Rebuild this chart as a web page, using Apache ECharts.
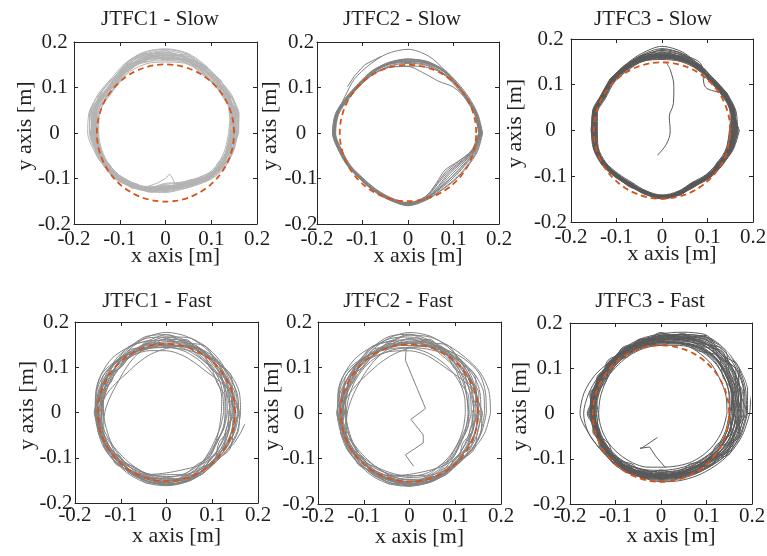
<!DOCTYPE html>
<html>
<head>
<meta charset="utf-8">
<script src="https://cdn.jsdelivr.net/npm/echarts@6/dist/echarts.min.js"></script>
<style>
html, body { margin: 0; padding: 0; background: #fff; }
#main { width: 767px; height: 556px; }
</style>
</head>
<body>
<div id="main"></div>
<script>
// panel titles and axis ticks
const titles = ['JTFC1 - Slow', 'JTFC2 - Slow', 'JTFC3 - Slow', 'JTFC1 - Fast', 'JTFC2 - Fast', 'JTFC3 - Fast']
const tickValues = [-0.2, -0.1, 0, 0.1, 0.2]
const tickLabels = ['-0.2', '-0.1', '0', '0.1', '0.2']

// reference path (dashed circle), radius in m
const refRadius = 0.15
const refAngles = [0, 10, 20, 30, 40, 50, 60, 70, 80, 90, 100, 110, 120, 130, 140, 150, 160, 170, 180,
  190, 200, 210, 220, 230, 240, 250, 260, 270, 280, 290, 300, 310, 320, 330, 340, 350, 360]

// angles (deg) where the radius of each measured loop was read
const angles = [0, 15, 30, 45, 60, 75, 90, 105, 120, 135, 150, 165, 180, 195, 210, 225, 240, 255, 270, 285, 300, 315, 330, 345]

// measured loops: radius [m] at each angle
const slow1 = [
  [0.150, 0.158, 0.160, 0.155, 0.165, 0.172, 0.175, 0.174, 0.166, 0.158, 0.162, 0.163, 0.158, 0.153, 0.147, 0.140, 0.133, 0.126, 0.118, 0.118, 0.124, 0.134, 0.141, 0.146],
  [0.142, 0.150, 0.154, 0.152, 0.158, 0.163, 0.162, 0.165, 0.160, 0.152, 0.155, 0.156, 0.150, 0.148, 0.145, 0.140, 0.134, 0.127, 0.121, 0.122, 0.127, 0.136, 0.139, 0.140],
  [0.155, 0.162, 0.165, 0.162, 0.168, 0.176, 0.180, 0.178, 0.170, 0.160, 0.164, 0.168, 0.162, 0.156, 0.150, 0.144, 0.137, 0.130, 0.124, 0.123, 0.128, 0.138, 0.146, 0.150],
  [0.146, 0.153, 0.156, 0.160, 0.162, 0.166, 0.165, 0.168, 0.164, 0.155, 0.158, 0.158, 0.153, 0.150, 0.146, 0.141, 0.134, 0.127, 0.119, 0.119, 0.124, 0.133, 0.139, 0.143],
  [0.158, 0.166, 0.163, 0.166, 0.170, 0.179, 0.183, 0.181, 0.174, 0.165, 0.168, 0.173, 0.170, 0.160, 0.152, 0.146, 0.138, 0.131, 0.126, 0.125, 0.130, 0.140, 0.148, 0.154],
  [0.140, 0.148, 0.152, 0.150, 0.156, 0.160, 0.158, 0.162, 0.158, 0.150, 0.152, 0.153, 0.148, 0.146, 0.143, 0.138, 0.131, 0.124, 0.112, 0.114, 0.120, 0.130, 0.136, 0.138],
  [0.152, 0.160, 0.157, 0.158, 0.164, 0.170, 0.171, 0.172, 0.168, 0.160, 0.161, 0.161, 0.156, 0.152, 0.148, 0.143, 0.136, 0.128, 0.121, 0.120, 0.126, 0.137, 0.143, 0.147],
  [0.145, 0.152, 0.150, 0.155, 0.160, 0.167, 0.168, 0.169, 0.163, 0.156, 0.160, 0.158, 0.152, 0.149, 0.146, 0.141, 0.135, 0.129, 0.122, 0.121, 0.125, 0.134, 0.140, 0.142],
  [0.160, 0.166, 0.150, 0.150, 0.158, 0.165, 0.166, 0.168, 0.162, 0.153, 0.160, 0.172, 0.165, 0.151, 0.145, 0.139, 0.132, 0.126, 0.117, 0.117, 0.122, 0.132, 0.139, 0.148],
  [0.148, 0.155, 0.159, 0.156, 0.161, 0.169, 0.173, 0.171, 0.167, 0.159, 0.158, 0.159, 0.154, 0.151, 0.147, 0.142, 0.135, 0.128, 0.125, 0.124, 0.127, 0.136, 0.141, 0.144],
  [0.138, 0.146, 0.153, 0.149, 0.154, 0.158, 0.155, 0.157, 0.155, 0.148, 0.150, 0.150, 0.146, 0.144, 0.141, 0.136, 0.129, 0.122, 0.110, 0.112, 0.118, 0.128, 0.133, 0.135],
  [0.156, 0.163, 0.167, 0.165, 0.172, 0.181, 0.184, 0.183, 0.176, 0.168, 0.170, 0.170, 0.166, 0.158, 0.152, 0.146, 0.139, 0.133, 0.130, 0.128, 0.132, 0.142, 0.150, 0.153],
  [0.150, 0.150, 0.162, 0.160, 0.163, 0.165, 0.163, 0.166, 0.169, 0.163, 0.156, 0.155, 0.160, 0.155, 0.149, 0.143, 0.133, 0.127, 0.119, 0.121, 0.129, 0.137, 0.144, 0.145],
  [0.144, 0.157, 0.158, 0.153, 0.166, 0.174, 0.170, 0.167, 0.162, 0.154, 0.163, 0.165, 0.151, 0.147, 0.144, 0.139, 0.136, 0.130, 0.123, 0.123, 0.123, 0.131, 0.138, 0.141],
  [0.153, 0.159, 0.155, 0.161, 0.167, 0.171, 0.177, 0.176, 0.171, 0.162, 0.159, 0.162, 0.159, 0.155, 0.150, 0.145, 0.137, 0.125, 0.116, 0.119, 0.128, 0.139, 0.145, 0.151],
  [0.147, 0.154, 0.161, 0.158, 0.160, 0.164, 0.170, 0.173, 0.165, 0.157, 0.157, 0.166, 0.157, 0.150, 0.146, 0.140, 0.132, 0.127, 0.120, 0.116, 0.121, 0.133, 0.140, 0.147],
  [0.156, 0.149, 0.152, 0.163, 0.170, 0.165, 0.160, 0.176, 0.172, 0.150, 0.148, 0.165, 0.162, 0.146, 0.150, 0.145, 0.128, 0.131, 0.127, 0.115, 0.117, 0.139, 0.137, 0.150],
  [0.143, 0.160, 0.163, 0.150, 0.157, 0.178, 0.168, 0.160, 0.170, 0.163, 0.152, 0.151, 0.164, 0.156, 0.142, 0.137, 0.140, 0.122, 0.116, 0.126, 0.131, 0.130, 0.146, 0.138],
  [0.152, 0.145, 0.158, 0.167, 0.161, 0.160, 0.180, 0.170, 0.158, 0.166, 0.165, 0.156, 0.149, 0.158, 0.150, 0.135, 0.130, 0.134, 0.122, 0.113, 0.125, 0.140, 0.134, 0.145],
  [0.158, 0.163, 0.148, 0.158, 0.169, 0.168, 0.161, 0.179, 0.175, 0.155, 0.155, 0.169, 0.157, 0.148, 0.152, 0.148, 0.134, 0.124, 0.128, 0.126, 0.119, 0.127, 0.145, 0.152],
  [0.141, 0.151, 0.160, 0.152, 0.152, 0.171, 0.176, 0.164, 0.161, 0.161, 0.167, 0.160, 0.151, 0.153, 0.140, 0.143, 0.138, 0.125, 0.114, 0.120, 0.130, 0.135, 0.132, 0.142],
  [0.150, 0.157, 0.155, 0.164, 0.166, 0.162, 0.172, 0.180, 0.166, 0.152, 0.161, 0.158, 0.155, 0.150, 0.148, 0.136, 0.133, 0.132, 0.124, 0.118, 0.122, 0.136, 0.142, 0.139]
]
const slow2 = [
  [0.160, 0.155, 0.151, 0.150, 0.156, 0.160, 0.158, 0.158, 0.155, 0.152, 0.154, 0.162, 0.163, 0.154, 0.148, 0.143, 0.145, 0.150, 0.157, 0.150, 0.140, 0.136, 0.140, 0.152],
  [0.163, 0.157, 0.153, 0.152, 0.158, 0.163, 0.162, 0.160, 0.157, 0.153, 0.156, 0.164, 0.165, 0.156, 0.150, 0.145, 0.147, 0.152, 0.159, 0.152, 0.145, 0.144, 0.148, 0.156],
  [0.157, 0.154, 0.149, 0.149, 0.153, 0.156, 0.155, 0.156, 0.153, 0.150, 0.152, 0.160, 0.161, 0.152, 0.147, 0.142, 0.144, 0.149, 0.155, 0.147, 0.130, 0.122, 0.130, 0.147],
  [0.156, 0.153, 0.150, 0.151, 0.160, 0.175, 0.184, 0.180, 0.172, 0.167, 0.160, 0.161, 0.162, 0.153, 0.148, 0.144, 0.146, 0.151, 0.156, 0.149, 0.136, 0.128, 0.134, 0.149],
  [0.158, 0.154, 0.148, 0.142, 0.132, 0.136, 0.146, 0.150, 0.150, 0.149, 0.153, 0.160, 0.160, 0.151, 0.146, 0.141, 0.143, 0.148, 0.154, 0.146, 0.126, 0.115, 0.126, 0.146],
  [0.161, 0.156, 0.152, 0.153, 0.157, 0.159, 0.157, 0.157, 0.154, 0.151, 0.153, 0.163, 0.164, 0.155, 0.149, 0.144, 0.146, 0.151, 0.158, 0.151, 0.142, 0.140, 0.144, 0.154],
  [0.159, 0.155, 0.150, 0.151, 0.156, 0.158, 0.160, 0.159, 0.156, 0.152, 0.155, 0.161, 0.162, 0.155, 0.149, 0.145, 0.147, 0.152, 0.156, 0.148, 0.134, 0.125, 0.132, 0.148],
  [0.162, 0.158, 0.152, 0.150, 0.152, 0.150, 0.147, 0.150, 0.151, 0.151, 0.154, 0.163, 0.164, 0.155, 0.150, 0.146, 0.148, 0.153, 0.157, 0.150, 0.138, 0.132, 0.137, 0.150],
  [0.158, 0.156, 0.151, 0.152, 0.157, 0.161, 0.161, 0.158, 0.153, 0.150, 0.152, 0.159, 0.161, 0.153, 0.148, 0.144, 0.146, 0.150, 0.156, 0.149, 0.140, 0.137, 0.142, 0.151],
  [0.155, 0.152, 0.147, 0.147, 0.151, 0.154, 0.153, 0.153, 0.150, 0.148, 0.150, 0.158, 0.159, 0.150, 0.145, 0.140, 0.142, 0.147, 0.153, 0.145, 0.128, 0.119, 0.127, 0.145],
  [0.164, 0.159, 0.155, 0.155, 0.160, 0.162, 0.163, 0.161, 0.158, 0.154, 0.157, 0.165, 0.166, 0.157, 0.151, 0.146, 0.148, 0.153, 0.160, 0.153, 0.146, 0.146, 0.150, 0.158]
]
const slow3 = [
  [0.158, 0.161, 0.158, 0.154, 0.160, 0.163, 0.165, 0.164, 0.158, 0.155, 0.149, 0.153, 0.149, 0.151, 0.147, 0.140, 0.137, 0.141, 0.147, 0.143, 0.137, 0.142, 0.147, 0.154],
  [0.162, 0.165, 0.162, 0.158, 0.164, 0.168, 0.170, 0.168, 0.161, 0.158, 0.152, 0.156, 0.152, 0.153, 0.150, 0.143, 0.139, 0.143, 0.149, 0.145, 0.139, 0.145, 0.150, 0.157],
  [0.154, 0.157, 0.155, 0.152, 0.157, 0.159, 0.159, 0.160, 0.154, 0.151, 0.145, 0.149, 0.145, 0.147, 0.144, 0.137, 0.134, 0.139, 0.144, 0.140, 0.134, 0.139, 0.143, 0.150],
  [0.166, 0.160, 0.157, 0.135, 0.170, 0.172, 0.176, 0.170, 0.160, 0.156, 0.150, 0.154, 0.150, 0.151, 0.148, 0.141, 0.138, 0.142, 0.147, 0.142, 0.137, 0.141, 0.148, 0.158],
  [0.156, 0.162, 0.160, 0.157, 0.161, 0.166, 0.167, 0.166, 0.160, 0.157, 0.151, 0.151, 0.143, 0.148, 0.146, 0.139, 0.136, 0.140, 0.146, 0.143, 0.138, 0.144, 0.149, 0.152],
  [0.160, 0.158, 0.156, 0.153, 0.158, 0.161, 0.162, 0.161, 0.156, 0.153, 0.147, 0.151, 0.147, 0.149, 0.146, 0.139, 0.136, 0.140, 0.145, 0.141, 0.135, 0.140, 0.145, 0.152],
  [0.168, 0.163, 0.160, 0.160, 0.166, 0.175, 0.180, 0.172, 0.163, 0.159, 0.153, 0.157, 0.154, 0.155, 0.151, 0.144, 0.141, 0.145, 0.150, 0.146, 0.141, 0.147, 0.152, 0.160],
  [0.152, 0.159, 0.157, 0.153, 0.159, 0.160, 0.161, 0.162, 0.157, 0.154, 0.148, 0.152, 0.148, 0.150, 0.147, 0.140, 0.137, 0.141, 0.146, 0.142, 0.136, 0.141, 0.145, 0.150],
  [0.159, 0.162, 0.159, 0.156, 0.162, 0.164, 0.164, 0.165, 0.159, 0.156, 0.150, 0.154, 0.150, 0.152, 0.149, 0.142, 0.138, 0.142, 0.148, 0.144, 0.138, 0.143, 0.148, 0.155],
  [0.161, 0.160, 0.158, 0.155, 0.158, 0.160, 0.158, 0.158, 0.155, 0.152, 0.146, 0.150, 0.146, 0.148, 0.145, 0.138, 0.135, 0.139, 0.144, 0.141, 0.136, 0.141, 0.146, 0.154],
  [0.155, 0.164, 0.161, 0.156, 0.163, 0.167, 0.168, 0.167, 0.162, 0.157, 0.151, 0.155, 0.151, 0.152, 0.148, 0.141, 0.138, 0.142, 0.147, 0.144, 0.139, 0.144, 0.148, 0.153],
  [0.164, 0.162, 0.158, 0.155, 0.161, 0.164, 0.166, 0.165, 0.159, 0.155, 0.149, 0.152, 0.149, 0.150, 0.146, 0.139, 0.136, 0.140, 0.146, 0.142, 0.136, 0.142, 0.147, 0.156],
  [0.163, 0.166, 0.163, 0.160, 0.167, 0.171, 0.173, 0.171, 0.164, 0.160, 0.154, 0.158, 0.155, 0.156, 0.152, 0.145, 0.141, 0.144, 0.150, 0.147, 0.142, 0.148, 0.153, 0.159],
  [0.150, 0.155, 0.153, 0.150, 0.155, 0.157, 0.156, 0.158, 0.152, 0.149, 0.143, 0.147, 0.142, 0.145, 0.142, 0.135, 0.132, 0.137, 0.142, 0.138, 0.132, 0.137, 0.141, 0.147],
  [0.166, 0.168, 0.164, 0.161, 0.165, 0.178, 0.185, 0.175, 0.165, 0.160, 0.155, 0.158, 0.152, 0.154, 0.150, 0.143, 0.140, 0.144, 0.149, 0.145, 0.140, 0.146, 0.151, 0.161],
  [0.157, 0.160, 0.159, 0.157, 0.163, 0.166, 0.166, 0.163, 0.157, 0.154, 0.149, 0.153, 0.148, 0.150, 0.147, 0.141, 0.138, 0.141, 0.145, 0.143, 0.138, 0.143, 0.146, 0.152],
  [0.160, 0.163, 0.161, 0.158, 0.160, 0.162, 0.161, 0.162, 0.160, 0.157, 0.151, 0.155, 0.149, 0.149, 0.146, 0.140, 0.136, 0.140, 0.147, 0.145, 0.140, 0.144, 0.149, 0.156],
  [0.153, 0.158, 0.156, 0.154, 0.162, 0.165, 0.163, 0.166, 0.159, 0.154, 0.147, 0.150, 0.147, 0.151, 0.148, 0.141, 0.137, 0.141, 0.146, 0.141, 0.135, 0.140, 0.144, 0.151],
  [0.165, 0.156, 0.160, 0.152, 0.163, 0.170, 0.160, 0.167, 0.163, 0.150, 0.152, 0.150, 0.151, 0.146, 0.150, 0.138, 0.140, 0.138, 0.149, 0.140, 0.141, 0.139, 0.150, 0.150],
  [0.150, 0.166, 0.154, 0.159, 0.155, 0.166, 0.172, 0.160, 0.161, 0.159, 0.146, 0.156, 0.146, 0.153, 0.143, 0.144, 0.134, 0.144, 0.142, 0.146, 0.134, 0.146, 0.142, 0.158],
  [0.162, 0.158, 0.165, 0.150, 0.166, 0.158, 0.168, 0.170, 0.155, 0.158, 0.153, 0.148, 0.153, 0.147, 0.152, 0.139, 0.141, 0.137, 0.150, 0.139, 0.140, 0.138, 0.152, 0.149],
  [0.156, 0.163, 0.152, 0.161, 0.158, 0.169, 0.163, 0.158, 0.165, 0.152, 0.148, 0.157, 0.144, 0.152, 0.144, 0.145, 0.135, 0.145, 0.143, 0.147, 0.137, 0.147, 0.140, 0.157],
  [0.170, 0.160, 0.162, 0.156, 0.160, 0.174, 0.178, 0.163, 0.158, 0.161, 0.150, 0.152, 0.156, 0.148, 0.149, 0.142, 0.143, 0.139, 0.147, 0.144, 0.143, 0.142, 0.151, 0.162],
  [0.148, 0.161, 0.157, 0.151, 0.165, 0.161, 0.165, 0.169, 0.160, 0.151, 0.155, 0.149, 0.147, 0.150, 0.145, 0.137, 0.138, 0.143, 0.145, 0.140, 0.133, 0.144, 0.146, 0.147]
]
const fast1 = [
  [0.150, 0.152, 0.152, 0.150, 0.152, 0.154, 0.152, 0.153, 0.154, 0.155, 0.154, 0.153, 0.152, 0.150, 0.148, 0.149, 0.150, 0.152, 0.153, 0.152, 0.149, 0.147, 0.148, 0.149],
  [0.158, 0.160, 0.158, 0.163, 0.168, 0.170, 0.165, 0.158, 0.155, 0.158, 0.156, 0.155, 0.150, 0.146, 0.145, 0.148, 0.152, 0.155, 0.156, 0.155, 0.150, 0.145, 0.150, 0.155],
  [0.125, 0.128, 0.135, 0.140, 0.145, 0.150, 0.148, 0.146, 0.150, 0.155, 0.152, 0.150, 0.153, 0.152, 0.150, 0.147, 0.150, 0.152, 0.150, 0.145, 0.138, 0.128, 0.122, 0.122],
  [0.140, 0.138, 0.140, 0.142, 0.150, 0.160, 0.165, 0.168, 0.165, 0.160, 0.150, 0.142, 0.138, 0.136, 0.138, 0.140, 0.145, 0.152, 0.155, 0.158, 0.155, 0.150, 0.145, 0.142],
  [0.160, 0.150, 0.135, 0.125, 0.125, 0.130, 0.135, 0.140, 0.145, 0.148, 0.152, 0.155, 0.156, 0.155, 0.152, 0.150, 0.148, 0.146, 0.145, 0.148, 0.150, 0.152, 0.157, 0.162],
  [0.145, 0.150, 0.155, 0.160, 0.158, 0.150, 0.140, 0.132, 0.125, 0.122, 0.128, 0.138, 0.145, 0.150, 0.155, 0.156, 0.150, 0.140, 0.132, 0.130, 0.135, 0.140, 0.138, 0.140],
  [0.130, 0.133, 0.140, 0.148, 0.155, 0.158, 0.155, 0.150, 0.140, 0.130, 0.125, 0.128, 0.135, 0.142, 0.148, 0.152, 0.155, 0.156, 0.158, 0.155, 0.145, 0.135, 0.128, 0.128],
  [0.155, 0.158, 0.160, 0.155, 0.148, 0.143, 0.142, 0.145, 0.150, 0.158, 0.165, 0.160, 0.155, 0.150, 0.146, 0.145, 0.143, 0.140, 0.140, 0.142, 0.145, 0.150, 0.152, 0.153],
  [0.148, 0.145, 0.150, 0.158, 0.165, 0.172, 0.175, 0.170, 0.160, 0.150, 0.145, 0.145, 0.148, 0.150, 0.153, 0.155, 0.158, 0.160, 0.160, 0.158, 0.152, 0.148, 0.147, 0.148],
  [0.120, 0.125, 0.130, 0.132, 0.135, 0.140, 0.143, 0.145, 0.145, 0.143, 0.140, 0.140, 0.142, 0.145, 0.145, 0.142, 0.140, 0.140, 0.142, 0.140, 0.135, 0.130, 0.125, 0.120],
  [0.138, 0.142, 0.147, 0.152, 0.158, 0.162, 0.160, 0.155, 0.148, 0.142, 0.140, 0.143, 0.147, 0.150, 0.150, 0.146, 0.144, 0.145, 0.148, 0.149, 0.146, 0.141, 0.137, 0.136],
  [0.162, 0.165, 0.163, 0.158, 0.155, 0.156, 0.158, 0.162, 0.165, 0.168, 0.165, 0.160, 0.156, 0.152, 0.150, 0.152, 0.155, 0.157, 0.158, 0.157, 0.155, 0.153, 0.156, 0.160],
  [0.133, 0.136, 0.142, 0.150, 0.157, 0.163, 0.170, 0.172, 0.163, 0.152, 0.145, 0.148, 0.152, 0.155, 0.157, 0.155, 0.152, 0.150, 0.150, 0.147, 0.140, 0.132, 0.128, 0.130],
  [0.150, 0.145, 0.140, 0.138, 0.140, 0.145, 0.148, 0.150, 0.148, 0.145, 0.147, 0.152, 0.155, 0.153, 0.150, 0.148, 0.152, 0.156, 0.158, 0.156, 0.152, 0.150, 0.152, 0.153],
  [0.143, 0.148, 0.152, 0.155, 0.152, 0.148, 0.146, 0.148, 0.152, 0.157, 0.160, 0.158, 0.150, 0.142, 0.138, 0.136, 0.138, 0.142, 0.146, 0.150, 0.150, 0.146, 0.142, 0.142],
  [0.152, 0.140, 0.148, 0.136, 0.155, 0.150, 0.162, 0.148, 0.158, 0.142, 0.150, 0.140, 0.152, 0.145, 0.156, 0.142, 0.155, 0.146, 0.158, 0.144, 0.152, 0.138, 0.145, 0.135],
  [0.135, 0.150, 0.142, 0.158, 0.148, 0.165, 0.150, 0.160, 0.145, 0.152, 0.138, 0.150, 0.140, 0.155, 0.145, 0.158, 0.148, 0.160, 0.150, 0.155, 0.142, 0.148, 0.132, 0.140],
  [0.158, 0.150, 0.163, 0.155, 0.168, 0.158, 0.170, 0.162, 0.166, 0.156, 0.160, 0.150, 0.158, 0.148, 0.152, 0.146, 0.150, 0.148, 0.154, 0.150, 0.156, 0.150, 0.160, 0.152],
  [0.128, 0.132, 0.128, 0.138, 0.142, 0.150, 0.145, 0.155, 0.148, 0.150, 0.142, 0.146, 0.138, 0.145, 0.140, 0.146, 0.138, 0.142, 0.136, 0.140, 0.132, 0.135, 0.126, 0.130],
  [0.146, 0.155, 0.150, 0.145, 0.158, 0.152, 0.145, 0.156, 0.150, 0.140, 0.152, 0.148, 0.142, 0.154, 0.150, 0.140, 0.153, 0.150, 0.143, 0.155, 0.150, 0.140, 0.150, 0.148]
]
const fast2 = [
  [0.150, 0.152, 0.153, 0.152, 0.153, 0.155, 0.153, 0.153, 0.155, 0.156, 0.155, 0.154, 0.153, 0.151, 0.149, 0.150, 0.151, 0.153, 0.154, 0.152, 0.148, 0.146, 0.147, 0.149],
  [0.177, 0.180, 0.178, 0.172, 0.170, 0.172, 0.170, 0.160, 0.156, 0.157, 0.155, 0.154, 0.150, 0.147, 0.146, 0.149, 0.152, 0.155, 0.156, 0.155, 0.152, 0.150, 0.160, 0.170],
  [0.130, 0.130, 0.135, 0.142, 0.148, 0.153, 0.152, 0.150, 0.152, 0.155, 0.150, 0.145, 0.148, 0.150, 0.150, 0.148, 0.150, 0.152, 0.150, 0.145, 0.138, 0.130, 0.125, 0.127],
  [0.142, 0.140, 0.142, 0.145, 0.152, 0.162, 0.166, 0.168, 0.164, 0.158, 0.150, 0.143, 0.140, 0.138, 0.140, 0.142, 0.147, 0.153, 0.157, 0.158, 0.155, 0.150, 0.146, 0.143],
  [0.158, 0.150, 0.138, 0.128, 0.127, 0.132, 0.136, 0.140, 0.145, 0.150, 0.155, 0.158, 0.158, 0.156, 0.152, 0.150, 0.147, 0.145, 0.145, 0.148, 0.151, 0.154, 0.158, 0.162],
  [0.148, 0.152, 0.157, 0.162, 0.160, 0.152, 0.142, 0.133, 0.127, 0.125, 0.130, 0.140, 0.147, 0.152, 0.156, 0.157, 0.151, 0.142, 0.134, 0.132, 0.136, 0.141, 0.140, 0.143],
  [0.128, 0.130, 0.138, 0.146, 0.155, 0.160, 0.157, 0.150, 0.140, 0.132, 0.128, 0.130, 0.136, 0.143, 0.150, 0.154, 0.157, 0.158, 0.159, 0.156, 0.146, 0.136, 0.130, 0.128],
  [0.156, 0.160, 0.162, 0.158, 0.150, 0.145, 0.143, 0.146, 0.152, 0.160, 0.166, 0.162, 0.156, 0.150, 0.146, 0.144, 0.142, 0.140, 0.141, 0.143, 0.147, 0.152, 0.154, 0.155],
  [0.152, 0.150, 0.153, 0.160, 0.167, 0.174, 0.176, 0.170, 0.160, 0.150, 0.145, 0.143, 0.146, 0.150, 0.154, 0.157, 0.160, 0.161, 0.160, 0.157, 0.152, 0.148, 0.148, 0.150],
  [0.122, 0.125, 0.128, 0.130, 0.133, 0.138, 0.142, 0.143, 0.142, 0.140, 0.138, 0.137, 0.138, 0.140, 0.142, 0.140, 0.138, 0.137, 0.138, 0.137, 0.133, 0.128, 0.124, 0.122],
  [0.140, 0.144, 0.149, 0.154, 0.160, 0.164, 0.162, 0.156, 0.149, 0.143, 0.141, 0.144, 0.148, 0.151, 0.152, 0.148, 0.146, 0.147, 0.150, 0.151, 0.148, 0.143, 0.139, 0.138],
  [0.164, 0.168, 0.166, 0.161, 0.157, 0.158, 0.160, 0.163, 0.166, 0.168, 0.166, 0.161, 0.157, 0.153, 0.151, 0.153, 0.156, 0.158, 0.159, 0.158, 0.156, 0.154, 0.158, 0.161],
  [0.135, 0.138, 0.144, 0.152, 0.158, 0.165, 0.172, 0.173, 0.164, 0.153, 0.146, 0.149, 0.153, 0.156, 0.158, 0.156, 0.153, 0.151, 0.151, 0.148, 0.141, 0.133, 0.129, 0.131],
  [0.168, 0.172, 0.175, 0.168, 0.160, 0.158, 0.155, 0.152, 0.150, 0.148, 0.148, 0.150, 0.152, 0.152, 0.150, 0.149, 0.150, 0.153, 0.155, 0.155, 0.153, 0.152, 0.157, 0.163],
  [0.145, 0.150, 0.154, 0.157, 0.154, 0.150, 0.148, 0.150, 0.153, 0.158, 0.161, 0.159, 0.151, 0.143, 0.139, 0.137, 0.139, 0.143, 0.147, 0.151, 0.151, 0.147, 0.144, 0.144],
  [0.155, 0.142, 0.150, 0.138, 0.156, 0.152, 0.163, 0.150, 0.160, 0.144, 0.152, 0.142, 0.154, 0.146, 0.157, 0.143, 0.156, 0.148, 0.160, 0.146, 0.154, 0.140, 0.147, 0.137],
  [0.137, 0.152, 0.144, 0.160, 0.150, 0.167, 0.152, 0.162, 0.147, 0.154, 0.140, 0.152, 0.142, 0.156, 0.146, 0.159, 0.149, 0.161, 0.151, 0.156, 0.143, 0.149, 0.134, 0.142],
  [0.160, 0.152, 0.165, 0.157, 0.170, 0.160, 0.172, 0.163, 0.167, 0.157, 0.161, 0.151, 0.159, 0.149, 0.153, 0.147, 0.151, 0.149, 0.155, 0.151, 0.157, 0.151, 0.162, 0.154],
  [0.130, 0.134, 0.130, 0.140, 0.144, 0.152, 0.147, 0.156, 0.149, 0.151, 0.143, 0.147, 0.139, 0.146, 0.141, 0.147, 0.139, 0.143, 0.137, 0.141, 0.133, 0.136, 0.127, 0.131],
  [0.148, 0.157, 0.152, 0.147, 0.160, 0.154, 0.147, 0.158, 0.152, 0.142, 0.154, 0.150, 0.144, 0.156, 0.152, 0.142, 0.155, 0.152, 0.145, 0.157, 0.152, 0.142, 0.152, 0.150]
]
const fast3 = [
  [0.168, 0.172, 0.176, 0.180, 0.175, 0.165, 0.160, 0.158, 0.155, 0.152, 0.152, 0.152, 0.150, 0.146, 0.144, 0.142, 0.138, 0.135, 0.135, 0.137, 0.140, 0.145, 0.155, 0.162],
  [0.185, 0.190, 0.195, 0.200, 0.190, 0.178, 0.170, 0.166, 0.162, 0.160, 0.158, 0.158, 0.155, 0.150, 0.148, 0.146, 0.143, 0.140, 0.140, 0.142, 0.146, 0.152, 0.165, 0.175],
  [0.150, 0.155, 0.160, 0.163, 0.162, 0.155, 0.150, 0.148, 0.145, 0.142, 0.143, 0.145, 0.145, 0.142, 0.140, 0.138, 0.134, 0.130, 0.128, 0.130, 0.133, 0.137, 0.143, 0.147],
  [0.195, 0.205, 0.212, 0.215, 0.200, 0.185, 0.175, 0.170, 0.165, 0.160, 0.155, 0.150, 0.148, 0.145, 0.145, 0.147, 0.148, 0.147, 0.150, 0.153, 0.158, 0.165, 0.175, 0.185],
  [0.160, 0.165, 0.170, 0.172, 0.172, 0.168, 0.165, 0.163, 0.160, 0.158, 0.160, 0.165, 0.170, 0.165, 0.155, 0.150, 0.145, 0.140, 0.138, 0.138, 0.140, 0.142, 0.148, 0.155],
  [0.145, 0.148, 0.150, 0.155, 0.158, 0.160, 0.158, 0.155, 0.150, 0.145, 0.140, 0.138, 0.137, 0.135, 0.132, 0.128, 0.125, 0.122, 0.118, 0.120, 0.125, 0.130, 0.135, 0.140],
  [0.175, 0.180, 0.185, 0.190, 0.185, 0.172, 0.165, 0.160, 0.158, 0.160, 0.168, 0.175, 0.178, 0.165, 0.155, 0.150, 0.145, 0.142, 0.140, 0.140, 0.145, 0.150, 0.160, 0.168],
  [0.162, 0.165, 0.168, 0.172, 0.170, 0.162, 0.158, 0.155, 0.152, 0.148, 0.147, 0.146, 0.145, 0.144, 0.142, 0.140, 0.137, 0.134, 0.132, 0.133, 0.137, 0.142, 0.150, 0.156],
  [0.178, 0.182, 0.186, 0.188, 0.180, 0.170, 0.163, 0.160, 0.156, 0.154, 0.153, 0.152, 0.150, 0.148, 0.147, 0.146, 0.143, 0.140, 0.142, 0.145, 0.150, 0.158, 0.167, 0.173],
  [0.155, 0.160, 0.165, 0.170, 0.168, 0.160, 0.155, 0.152, 0.150, 0.150, 0.150, 0.150, 0.148, 0.143, 0.140, 0.136, 0.132, 0.128, 0.125, 0.126, 0.130, 0.136, 0.145, 0.150],
  [0.190, 0.197, 0.200, 0.205, 0.195, 0.180, 0.172, 0.168, 0.163, 0.158, 0.155, 0.155, 0.153, 0.150, 0.150, 0.152, 0.150, 0.145, 0.145, 0.147, 0.152, 0.160, 0.172, 0.182],
  [0.165, 0.168, 0.172, 0.176, 0.178, 0.172, 0.166, 0.162, 0.158, 0.156, 0.155, 0.154, 0.152, 0.148, 0.145, 0.142, 0.140, 0.138, 0.136, 0.138, 0.142, 0.148, 0.157, 0.162],
  [0.158, 0.162, 0.165, 0.168, 0.165, 0.158, 0.153, 0.150, 0.148, 0.146, 0.146, 0.147, 0.146, 0.144, 0.142, 0.140, 0.138, 0.136, 0.134, 0.135, 0.138, 0.143, 0.150, 0.155],
  [0.172, 0.175, 0.180, 0.183, 0.180, 0.170, 0.162, 0.160, 0.157, 0.155, 0.154, 0.155, 0.153, 0.149, 0.146, 0.144, 0.141, 0.138, 0.138, 0.140, 0.144, 0.150, 0.160, 0.167],
  [0.182, 0.188, 0.192, 0.195, 0.188, 0.176, 0.168, 0.163, 0.160, 0.157, 0.156, 0.157, 0.154, 0.150, 0.148, 0.147, 0.145, 0.143, 0.143, 0.145, 0.149, 0.156, 0.168, 0.177],
  [0.160, 0.163, 0.167, 0.170, 0.167, 0.160, 0.156, 0.154, 0.152, 0.150, 0.150, 0.150, 0.150, 0.147, 0.145, 0.143, 0.140, 0.137, 0.135, 0.135, 0.138, 0.143, 0.151, 0.157],
  [0.170, 0.176, 0.182, 0.186, 0.183, 0.174, 0.167, 0.162, 0.158, 0.155, 0.153, 0.153, 0.152, 0.150, 0.148, 0.147, 0.146, 0.144, 0.143, 0.143, 0.146, 0.152, 0.162, 0.167],
  [0.152, 0.156, 0.160, 0.165, 0.165, 0.160, 0.156, 0.153, 0.150, 0.146, 0.144, 0.143, 0.142, 0.140, 0.138, 0.135, 0.132, 0.130, 0.130, 0.131, 0.134, 0.139, 0.146, 0.150],
  [0.188, 0.193, 0.198, 0.202, 0.193, 0.180, 0.170, 0.165, 0.161, 0.158, 0.157, 0.158, 0.156, 0.152, 0.150, 0.150, 0.148, 0.146, 0.147, 0.149, 0.153, 0.160, 0.172, 0.180],
  [0.165, 0.170, 0.174, 0.178, 0.176, 0.168, 0.162, 0.158, 0.155, 0.153, 0.152, 0.151, 0.150, 0.147, 0.144, 0.141, 0.138, 0.136, 0.136, 0.138, 0.141, 0.147, 0.156, 0.162],
  [0.176, 0.181, 0.184, 0.186, 0.182, 0.175, 0.170, 0.165, 0.160, 0.156, 0.154, 0.153, 0.151, 0.148, 0.146, 0.145, 0.142, 0.140, 0.140, 0.142, 0.146, 0.153, 0.163, 0.170],
  [0.158, 0.162, 0.166, 0.170, 0.168, 0.162, 0.158, 0.156, 0.153, 0.150, 0.149, 0.149, 0.148, 0.146, 0.144, 0.142, 0.139, 0.136, 0.135, 0.136, 0.139, 0.144, 0.151, 0.155],
  [0.190, 0.180, 0.192, 0.180, 0.195, 0.170, 0.175, 0.158, 0.164, 0.150, 0.160, 0.148, 0.158, 0.142, 0.150, 0.138, 0.148, 0.132, 0.142, 0.138, 0.150, 0.145, 0.170, 0.165],
  [0.160, 0.178, 0.170, 0.192, 0.172, 0.180, 0.160, 0.168, 0.152, 0.162, 0.148, 0.160, 0.145, 0.153, 0.138, 0.150, 0.135, 0.145, 0.130, 0.145, 0.135, 0.158, 0.150, 0.178],
  [0.175, 0.168, 0.190, 0.176, 0.190, 0.165, 0.172, 0.155, 0.166, 0.148, 0.158, 0.145, 0.160, 0.140, 0.152, 0.136, 0.146, 0.130, 0.140, 0.136, 0.148, 0.142, 0.168, 0.160],
  [0.168, 0.185, 0.175, 0.198, 0.178, 0.182, 0.163, 0.170, 0.155, 0.165, 0.150, 0.162, 0.148, 0.155, 0.140, 0.152, 0.138, 0.148, 0.133, 0.147, 0.138, 0.160, 0.155, 0.180],
  [0.150, 0.165, 0.158, 0.178, 0.160, 0.170, 0.150, 0.160, 0.145, 0.156, 0.140, 0.150, 0.138, 0.146, 0.133, 0.142, 0.128, 0.138, 0.124, 0.136, 0.128, 0.146, 0.140, 0.160],
  [0.182, 0.172, 0.200, 0.185, 0.198, 0.172, 0.178, 0.160, 0.168, 0.152, 0.162, 0.150, 0.162, 0.145, 0.154, 0.140, 0.150, 0.135, 0.144, 0.140, 0.152, 0.148, 0.175, 0.168]
]

// stray path pieces inside the panels, [x, y] in m
const slow1Extra = [
  [[-0.040, -0.118], [-0.018, -0.110], [0.000, -0.100], [0.009, -0.090], [0.014, -0.097], [0.020, -0.110], [0.030, -0.118]]
]
const slow2Extra = [
  [[-0.133, 0.102], [-0.118, 0.125], [-0.095, 0.150], [-0.060, 0.168]]
]
const slow3Extra = [
  [[0.010, 0.147], [0.018, 0.133], [0.026, 0.096], [0.025, 0.059], [0.016, 0.030], [0.018, 0.000], [0.010, -0.029], [-0.010, -0.054]]
]
const fast1Extra = [
  [[0.130, -0.085], [0.148, -0.068], [0.162, -0.045], [0.171, -0.026]]
]
const fast2Extra = [
  [[-0.007, 0.145], [-0.009, 0.116], [0.035, 0.010], [0.003, -0.014], [0.030, -0.048], [0.030, -0.066], [-0.009, -0.092], [0.009, -0.117]]
]
const fast3Extra = [
  [[-0.008, -0.053], [-0.040, -0.075], [-0.046, -0.077]],
  [[-0.046, -0.077], [-0.025, -0.074], [-0.012, -0.094], [0.010, -0.120]]
]

// ---- layout (pixels) ----
const font = 'Liberation Serif'
const ink = '#1f1f1f'
const boxLine = '#262626'
const boxes = [
  { left: 74, top: 42, w: 183, h: 182, tx: 160, ty: 9, ylm: 19.5, yng: 38, xlm: 5, xng: 21 },
  { left: 317, top: 42, w: 182, h: 182, tx: 402, ty: 9, ylm: 16, yng: 36, xlm: 5, xng: 21 },
  { left: 571, top: 39, w: 182, h: 183, tx: 653, ty: 9, ylm: 20.5, yng: 45, xlm: 5, xng: 21 },
  { left: 75, top: 322, w: 183, h: 181, tx: 157, ty: 291, ylm: 19, yng: 37, xlm: 2, xng: 22 },
  { left: 318, top: 322, w: 183, h: 182, tx: 398, ty: 291, ylm: 19, yng: 35, xlm: 2, xng: 22 },
  { left: 570, top: 323, w: 182, h: 181, tx: 650, ty: 291, ylm: 20.5, yng: 39, xlm: 2, xng: 21 }
]
const panels = [
  { loops: slow1, extra: slow1Extra, color: '#b3b3b3' },
  { loops: slow2, extra: slow2Extra, color: '#818181' },
  { loops: slow3, extra: slow3Extra, color: '#595959' },
  { loops: fast1, extra: fast1Extra, color: '#838383' },
  { loops: fast2, extra: fast2Extra, color: '#838383' },
  { loops: fast3, extra: fast3Extra, color: '#5a5a5a' }
]

function tickText (v) {
  const i = tickValues.findIndex(t => Math.abs(t - v) < 1e-9)
  return i >= 0 ? tickLabels[i] : ''
}

function makeAxis (dim, i, position, b) {
  const main = position === 'bottom' || position === 'left'
  const a = {
    gridIndex: i,
    type: 'value',
    position,
    min: -0.2,
    max: 0.2,
    interval: 0.1,
    axisLine: { show: true, onZero: false, lineStyle: { color: boxLine, width: 1 } },
    axisTick: { show: true, inside: true, length: 4, lineStyle: { color: boxLine, width: 1 } },
    splitLine: { show: false },
    axisLabel: {
      show: main,
      formatter: tickText,
      fontFamily: font,
      fontSize: 21,
      color: ink,
      showMinLabel: true,
      showMaxLabel: true,
      hideOverlap: false,
      margin: dim === 'x' ? b.xlm : b.ylm
    }
  }
  if (dim === 'y') a.axisLabel.align = 'center'
  if (main) {
    a.name = dim === 'x' ? 'x axis [m]' : 'y axis [m]'
    a.nameLocation = 'middle'
    a.nameGap = dim === 'x' ? b.xng : b.yng
    a.nameMoveOverlap = false
    a.nameTextStyle = {
      fontFamily: font,
      fontSize: 22,
      color: ink,
      padding: dim === 'x' ? [0, 0, 0, 20] : [0, 0, 0, 14]
    }
  }
  return a
}

const xAxis = []
const yAxis = []
boxes.forEach((b, i) => {
  xAxis.push(makeAxis('x', i, 'bottom', b), makeAxis('x', i, 'top', b))
  yAxis.push(makeAxis('y', i, 'left', b), makeAxis('y', i, 'right', b))
})

const hidden = { show: false, axisLine: { show: false }, axisTick: { show: false }, axisLabel: { show: false }, splitLine: { show: false } }

const series = []
panels.forEach((p, i) => {
  p.loops.forEach(loop => {
    series.push({
      type: 'line',
      coordinateSystem: 'polar',
      polarIndex: i,
      data: angles.concat([360]).map((a, k) => [loop[k % loop.length], a]),
      smooth: 0.3,
      showSymbol: false,
      symbol: 'none',
      silent: true,
      clip: false,
      lineStyle: { color: p.color, width: 1 },
      z: 2
    })
  })
  p.extra.forEach(seg => {
    series.push({
      type: 'line',
      xAxisIndex: 2 * i,
      yAxisIndex: 2 * i,
      data: seg,
      smooth: i === 2 ? 0.4 : false,
      showSymbol: false,
      symbol: 'none',
      silent: true,
      lineStyle: { color: p.color, width: 1 },
      z: 2
    })
  })
  series.push({
    type: 'line',
    coordinateSystem: 'polar',
    polarIndex: i,
    data: refAngles.map(a => [refRadius, a]),
    smooth: 0.3,
    showSymbol: false,
    symbol: 'none',
    silent: true,
    lineStyle: { color: '#d95319', width: 1.8, type: [6, 4] },
    z: 4
  })
})

const option = {
  animation: false,
  backgroundColor: '#fff',
  title: titles.map((t, i) => ({
    text: t,
    left: boxes[i].tx,
    top: boxes[i].ty,
    textAlign: 'center',
    padding: 0,
    textStyle: { fontFamily: font, fontSize: 21, fontWeight: 'normal', color: ink }
  })),
  grid: boxes.map(b => ({ left: b.left, top: b.top, width: b.w, height: b.h, show: false, containLabel: false, outerBoundsMode: 'none' })),
  xAxis,
  yAxis,
  polar: boxes.map(b => ({ center: [b.left + b.w / 2, b.top + b.h / 2], radius: [0, b.w / 2] })),
  angleAxis: boxes.map((b, i) => Object.assign({ polarIndex: i, type: 'value', min: 0, max: 360, startAngle: 0, clockwise: false }, hidden)),
  radiusAxis: boxes.map((b, i) => Object.assign({ polarIndex: i, type: 'value', min: 0, max: 0.2 }, hidden)),
  series
}

const chart = echarts.init(document.getElementById('main'))
chart.setOption(option)
</script>
</body>
</html>
